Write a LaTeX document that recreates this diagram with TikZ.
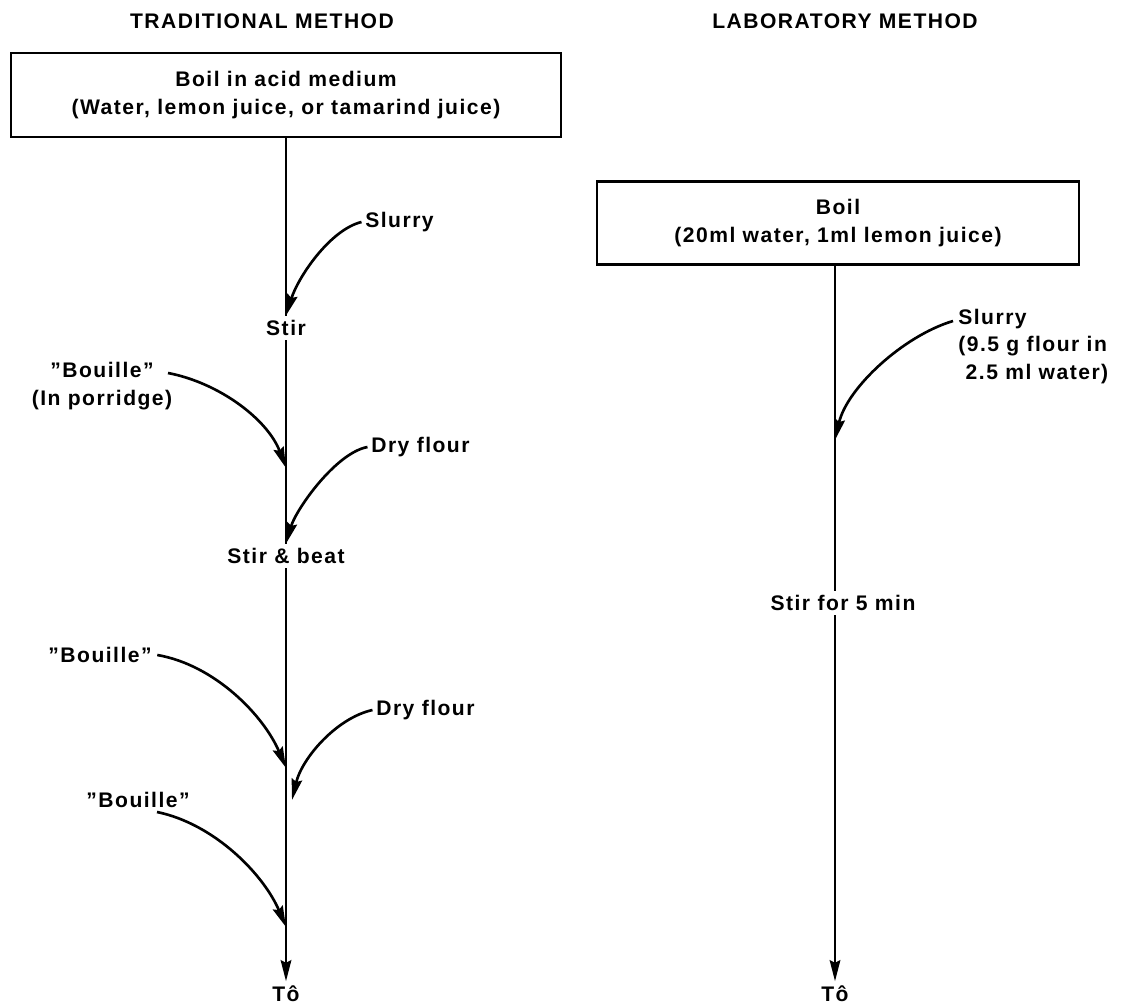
\documentclass[tikz,border=0pt]{standalone}
\usepackage{fontspec}
\setmainfont{Liberation Sans}[LetterSpace=7]
\usetikzlibrary{arrows.meta}

\begin{document}
\begin{tikzpicture}[
    x=0.02cm, y=-0.02cm,
    font=\bfseries\fontsize{12}{15.5}\selectfont,
    stepbox/.style={
        rectangle,
        draw=black,
        line width=1.5pt,
        align=center,
        inner sep=0pt
    },
    steptext/.style={
        inner sep=2.5pt
    },
    addtext/.style={
        inner sep=0pt,
        align=left
    },
    flow/.style={
        line width=1.5pt
    },
    arrow/.style={
        -{Stealth[length=12pt,width=6pt,inset=1.5pt]},
        line width=1.5pt
    }
]
\useasboundingbox (0,0) rectangle (1131,1006);

% column titles
\node (tradtitle) at (262,21) {TRADITIONAL METHOD};
\node (labtitle)  at (845,21) {LABORATORY METHOD};

% traditional method
\node[stepbox, minimum width=11cm, minimum height=1.68cm] (tradboil) at (286,95)
    {Boil in acid medium\\(Water, lemon juice, or tamarind juice)};

\node[steptext] (stir)     at (286,328) {Stir};
\node[steptext] (stirbeat) at (286,556) {Stir \& beat};
\node[steptext] (tradto)   at (286,994) {Tô};

\node[addtext, anchor=west] (slurry)    at (365,222) {Slurry};
\node[addtext, align=center] (porridge) at (102,386) {''Bouille''\\(In porridge)};
\node[addtext, anchor=west] (dryflour)  at (371,447) {Dry flour};
\node[addtext, anchor=east] (bouille)   at (152,655) {''Bouille''};
\node[addtext, anchor=west] (dryflourb) at (376,710) {Dry flour};
\node[addtext, anchor=east] (bouilleb)  at (190,800) {''Bouille''};

\coordinate (inporridge) at (286,468);
\coordinate (inbouille)  at (286,768);
\coordinate (inflour)    at (292,800);
\coordinate (inbouilleb) at (286,927);

\draw[flow]  (tradboil.south) -- (stir.north);
\draw[flow]  (stir.south) -- (stirbeat.north);
\draw[arrow] (stirbeat.south) -- (tradto.north);

\draw[arrow] ([xshift=-2pt]slurry.west) .. controls +(-32,8) and +(12,-38) .. (stir.north);
\draw[arrow] (168,373) .. controls +(52,10) and +(-18,-48) .. (inporridge);
\draw[arrow] ([xshift=-2pt]dryflour.west) .. controls +(-32,6) and +(10,-34) .. (stirbeat.north);
\draw[arrow] ([xshift=3pt]bouille.east) .. controls +(58,10) and +(-22,-52) .. (inbouille);
\draw[arrow] ([xshift=-2pt]dryflourb.west) .. controls +(-36,8) and +(10,-42) .. (inflour);
\draw[arrow] (157,812) .. controls +(58,12) and +(-22,-52) .. (inbouilleb);

% laboratory method
\node[stepbox, minimum width=9.64cm, minimum height=1.66cm] (labboil) at (838,223)
    {Boil\\(20ml water, 1ml lemon juice)};

\node[steptext] (stirfive) at (843,603) {Stir for 5 min};
\node[steptext] (labto)    at (835,994) {Tô};

\node[addtext, anchor=north west] (labslurry) at (958,309)
    {Slurry\\(9.5 g flour in\\\hspace*{0.35em}2.5 ml water)};

\coordinate (inslurry) at (835,440);

\draw[flow]  (labboil.south -| labto) -- (stirfive.north -| labto);
\draw[arrow] (stirfive.south -| labto) -- (labto.north);
\draw[arrow] (953,321) .. controls +(-50,15) and +(12,-52) .. (inslurry);

\end{tikzpicture}
\end{document}
